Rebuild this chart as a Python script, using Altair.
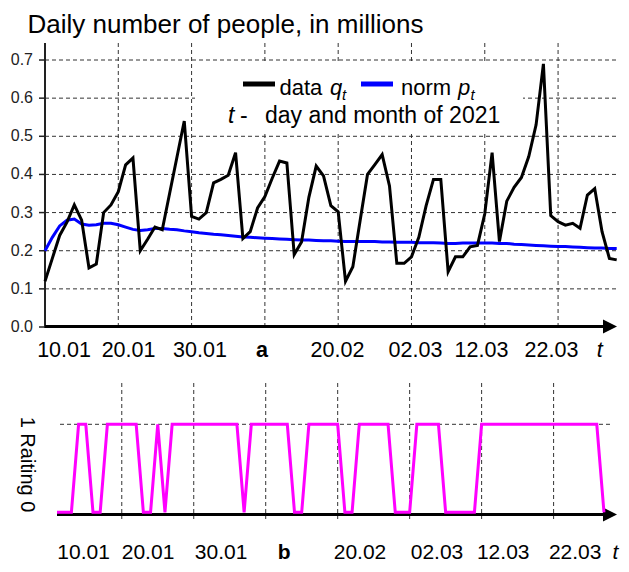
import altair as alt
import pandas as pd

# ---------------- data ----------------
DAYS = list(range(79))
Q = [0.12, 0.18, 0.24, 0.275, 0.32, 0.28, 0.155, 0.165, 0.30, 0.32,
     0.355, 0.425, 0.443, 0.20, 0.23, 0.262, 0.255, 0.35, 0.445, 0.54,
     0.29, 0.283, 0.30, 0.378, 0.387, 0.398, 0.457, 0.232, 0.25, 0.312,
     0.342, 0.39, 0.435, 0.43, 0.19, 0.223, 0.34, 0.422, 0.396, 0.318,
     0.302, 0.12, 0.158, 0.28, 0.40, 0.426, 0.452, 0.37, 0.167, 0.167,
     0.184, 0.235, 0.318, 0.387, 0.387, 0.145, 0.184, 0.184, 0.21, 0.214,
     0.297, 0.457, 0.224, 0.33, 0.366, 0.392, 0.447, 0.53, 0.69, 0.292,
     0.276, 0.267, 0.272, 0.259, 0.346, 0.363, 0.25, 0.18, 0.176]
P = [0.20, 0.235, 0.265, 0.28, 0.283, 0.27, 0.267, 0.268, 0.272, 0.272,
     0.268, 0.262, 0.256, 0.253, 0.255, 0.258, 0.258, 0.256, 0.255, 0.252,
     0.25, 0.247, 0.245, 0.243, 0.242, 0.24, 0.238, 0.236, 0.235, 0.234,
     0.233, 0.232, 0.231, 0.23, 0.229, 0.228, 0.228, 0.227, 0.226, 0.226,
     0.225, 0.224, 0.224, 0.224, 0.224, 0.224, 0.223, 0.223, 0.222, 0.222,
     0.222, 0.221, 0.221, 0.221, 0.22, 0.219, 0.219, 0.22, 0.22, 0.22,
     0.22, 0.22, 0.219, 0.219, 0.217, 0.216, 0.215, 0.214, 0.213, 0.212,
     0.211, 0.211, 0.21, 0.209, 0.208, 0.207, 0.207, 0.206, 0.206]
R_DAYS = list(range(1, 78))
R = [0, 0, 0, 1, 1, 0, 0, 1, 1, 1,
     1, 1, 0, 0, 1, 0, 1, 1, 1, 1,
     1, 1, 1, 1, 1, 1, 0, 1, 1, 1,
     1, 1, 1, 0, 0, 1, 1, 1, 1, 1,
     0, 0, 1, 1, 1, 1, 1, 0, 0, 0,
     1, 1, 1, 1, 0, 0, 0, 0, 0, 1,
     1, 1, 1, 1, 1, 1, 1, 1, 1, 1,
     1, 1, 1, 1, 1, 1, 0]
Y_TICKS = [0.0, 0.1, 0.2, 0.3, 0.4, 0.5, 0.6, 0.7]
GRID_DAYS = [10, 20, 30, 40, 50, 60, 70]
TOP_LABELS = ["10.01", "20.01", "30.01", "a", "20.02", "02.03", "12.03", "22.03", "t"]
TOP_LABEL_DAYS = [2.6, 11.4, 21.15, 29.6, 39.9, 50.55, 59.55, 69.1, 75.7]
BOT_LABELS = ["10.01", "20.01", "30.01", "b", "20.02", "02.03", "12.03", "22.03", "t"]
BOT_LABEL_DAYS = [4.7, 13.65, 23.8, 32.55, 43.1, 53.8, 63.0, 73.0, 78.6]
TITLE = "Daily number of people, in millions"
RATING_TITLE = "1 Raiting 0"

# ---------------- layout / style ----------------
FONT = "Liberation Sans"
W, H = 572, 477
GRID = "#333333"
DASH = [4, 3]
ARROW = "M-1,-1L1,0L-1,1Z"
LEG = 22

tx = alt.Scale(domain=[0, 78.04], nice=False, zero=False)
ty = alt.Scale(domain=[-0.506, 0.7446], nice=False, zero=False)
bx = alt.Scale(domain=[-0.667, 78.81], nice=False, zero=False)
by = alt.Scale(domain=[-0.0875, 5.333], nice=False, zero=False)

series = pd.DataFrame({"day": DAYS, "q": Q, "p": P})
rating = pd.DataFrame({"day": R_DAYS, "r": R})
yt = pd.DataFrame({"v": Y_TICKS})
gd = pd.DataFrame({"g": GRID_DAYS})
tl = pd.DataFrame({"lab": TOP_LABELS, "pos": TOP_LABEL_DAYS})
bl = pd.DataFrame({"lab": BOT_LABELS, "pos": BOT_LABEL_DAYS})
one = pd.DataFrame({"k": [0]})
onehl = pd.DataFrame({"r": [1]})


def txt(s, x, y, size=LEG, style="normal", weight="normal", align="left", baseline="alphabetic", angle=0):
    return alt.Chart(one).mark_text(
        text=s, font=FONT, fontSize=size, fontStyle=style, fontWeight=weight,
        align=align, baseline=baseline, angle=angle, color="black"
    ).encode(x=alt.value(x), y=alt.value(y))


def labels(df, scale, ybase, size=21.5):
    out = []
    for cond, weight, style in [
        ("datum.lab != 'a' && datum.lab != 'b' && datum.lab != 't'", "normal", "normal"),
        ("datum.lab == 'a' || datum.lab == 'b'", "bold", "normal"),
        ("datum.lab == 't'", "normal", "italic"),
    ]:
        out.append(
            alt.Chart(df).transform_filter(cond).mark_text(
                font=FONT, fontSize=size, fontWeight=weight, fontStyle=style,
                align="center", baseline="alphabetic", color="black"
            ).encode(x=alt.X("pos:Q", scale=scale, axis=None), y=alt.value(ybase), text="lab:N")
        )
    return out


# ---------------- top panel (a) ----------------
hgrid = alt.Chart(yt).transform_filter("datum.v > 0").mark_rule(
    color=GRID, strokeWidth=1, strokeDash=DASH
).encode(y=alt.Y("v:Q", scale=ty, axis=None), x=alt.value(0), x2=alt.value(573))
vgrid = alt.Chart(gd).mark_rule(color=GRID, strokeWidth=1, strokeDash=DASH).encode(
    x=alt.X("g:Q", scale=tx, axis=None), y=alt.value(0), y2=alt.value(284)
)
yaxis = alt.Chart(one).mark_rule(color="#222", strokeWidth=2).encode(
    x=alt.value(0), y=alt.value(0), y2=alt.value(285)
)
yticks = alt.Chart(yt).mark_rule(color="#222", strokeWidth=1.5).encode(
    y=alt.Y("v:Q", scale=ty, axis=None), x=alt.value(-6), x2=alt.value(0)
)
ylabels = alt.Chart(yt).mark_text(
    font=FONT, fontSize=16, align="right", baseline="middle", color="#222"
).encode(y=alt.Y("v:Q", scale=ty, axis=None), x=alt.value(-12), text=alt.Text("v:Q", format=".1f"))

legend_box = alt.Chart(one).mark_rect(color="white").encode(
    x=alt.value(150), x2=alt.value(478), y=alt.value(20), y2=alt.value(88)
)
leg_black = alt.Chart(one).mark_rule(color="black", strokeWidth=5).encode(
    x=alt.value(198), x2=alt.value(230), y=alt.value(41)
)
leg_blue = alt.Chart(one).mark_rule(color="#0000FF", strokeWidth=5).encode(
    x=alt.value(316), x2=alt.value(348), y=alt.value(41)
)
leg_texts = [
    txt("data", 234.5, 52),
    txt("q", 285, 52, style="italic"),
    txt("t", 297, 57, size=15, style="italic"),
    txt("norm", 356, 52),
    txt("p", 413, 52, style="italic"),
    txt("t", 425.5, 57, size=15, style="italic"),
    txt("t", 183, 80, size=23, style="italic"),
    txt("-", 195, 80, size=23),
    txt("day and month of 2021", 220, 80, size=23),
]

p_line = alt.Chart(series).mark_line(color="#0000FF", strokeWidth=3).encode(
    x=alt.X("day:Q", scale=tx, axis=None), y=alt.Y("p:Q", scale=ty, axis=None)
)
q_line = alt.Chart(series).mark_line(color="black", strokeWidth=3).encode(
    x=alt.X("day:Q", scale=tx, axis=None), y=alt.Y("q:Q", scale=ty, axis=None)
)
xaxis_top = alt.Chart(one).mark_rule(color="black", strokeWidth=3).encode(
    x=alt.value(0), x2=alt.value(560), y=alt.value(283.5)
)
arrow_top = alt.Chart(one).mark_point(
    shape=ARROW, size=196, filled=True, color="black", opacity=1, strokeWidth=0
).encode(x=alt.value(565), y=alt.value(283.5))
title = txt(TITLE, -17.5, -10.5, size=26)

top = alt.layer(
    hgrid, vgrid, yaxis, yticks, ylabels, legend_box, leg_black, leg_blue, *leg_texts,
    p_line, q_line, xaxis_top, arrow_top, *labels(tl, tx, 313.7), title
)

# ---------------- bottom panel (b) ----------------
bvgrid = alt.Chart(gd).mark_rule(color=GRID, strokeWidth=1, strokeDash=DASH).encode(
    x=alt.X("g:Q", scale=bx, axis=None), y=alt.value(340), y2=alt.value(476)
)
bhgrid = alt.Chart(onehl).mark_rule(color=GRID, strokeWidth=1, strokeDash=DASH).encode(
    y=alt.Y("r:Q", scale=by, axis=None), x=alt.value(15), x2=alt.value(566)
)
xaxis_bot = alt.Chart(one).mark_rule(color="black", strokeWidth=3).encode(
    x=alt.value(12), x2=alt.value(560), y=alt.value(471.5)
)
arrow_bot = alt.Chart(one).mark_point(
    shape=ARROW, size=196, filled=True, color="black", opacity=1, strokeWidth=0
).encode(x=alt.value(565), y=alt.value(471.5))
r_line = alt.Chart(rating).mark_line(color="#FF00FF", strokeWidth=3).encode(
    x=alt.X("day:Q", scale=bx, axis=None), y=alt.Y("r:Q", scale=by, axis=None)
)
r_title = txt(RATING_TITLE, -18.5, 421.5, size=20, align="center", baseline="middle", angle=90)

bottom = alt.layer(
    bvgrid, bhgrid, xaxis_bot, arrow_bot, r_line, r_title, *labels(bl, bx, 516, size=21)
)

chart = alt.layer(top, bottom).resolve_scale(
    x="independent", y="independent"
).properties(
    width=W, height=H,
    padding={"left": 37, "top": 35, "right": 4, "bottom": 44},
    autosize=alt.AutoSizeParams(type="none"),
    background="white",
).configure_view(stroke=None)

chart.save("out.html", embed_options={"renderer": "svg", "actions": False})
